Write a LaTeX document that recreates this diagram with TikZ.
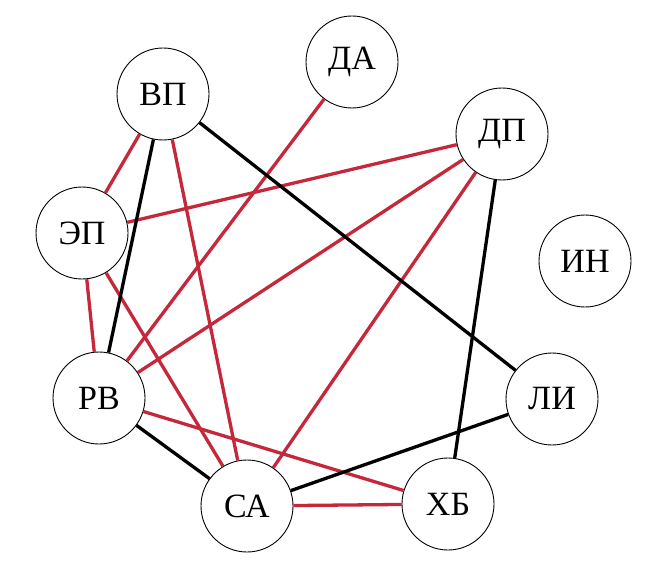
\documentclass[tikz,border=0pt]{standalone}
\usepackage{fontspec}
\setmainfont{Liberation Serif}
\definecolor{edgered}{RGB}{196,40,58}
\begin{document}
\begin{tikzpicture}[x=1pt,y=-1pt,
  vert/.style={circle,draw=black,line width=0.9pt,fill=white,minimum size=92pt,inner sep=0pt,font=\fontsize{34}{34}\selectfont},
  redge/.style={draw=edgered,line width=3.3pt},
  bedge/.style={draw=black,line width=3.3pt}]
\useasboundingbox (0,0) rectangle (664,567);
\node[vert] (VP) at (163,94) {ВП};
\node[vert] (DA) at (352,62) {ДА};
\node[vert] (DP) at (502,134) {ДП};
\node[vert] (EP) at (82,233) {ЭП};
\node[vert] (IN) at (585,261) {ИН};
\node[vert] (RV) at (99,398) {РВ};
\node[vert] (LI) at (552,399) {ЛИ};
\node[vert] (SA) at (247,506) {СА};
\node[vert] (XB) at (448,504) {ХБ};
\path[redge] (VP) -- (EP);
\path[redge] (VP) -- (SA);
\path[redge] (DA) -- (RV);
\path[redge] (DP) -- (EP);
\path[redge] (DP) -- (RV);
\path[redge] (DP) -- (SA);
\path[redge] (EP) -- (RV);
\path[redge] (EP) -- (SA);
\path[redge] (RV) -- (XB);
\path[redge] (SA) -- (XB);
\path[bedge] (VP) -- (RV);
\path[bedge] (VP) -- (LI);
\path[bedge] (DP) -- (XB);
\path[bedge] (RV) -- (SA);
\path[bedge] (SA) -- (LI);
\end{tikzpicture}
\end{document}
